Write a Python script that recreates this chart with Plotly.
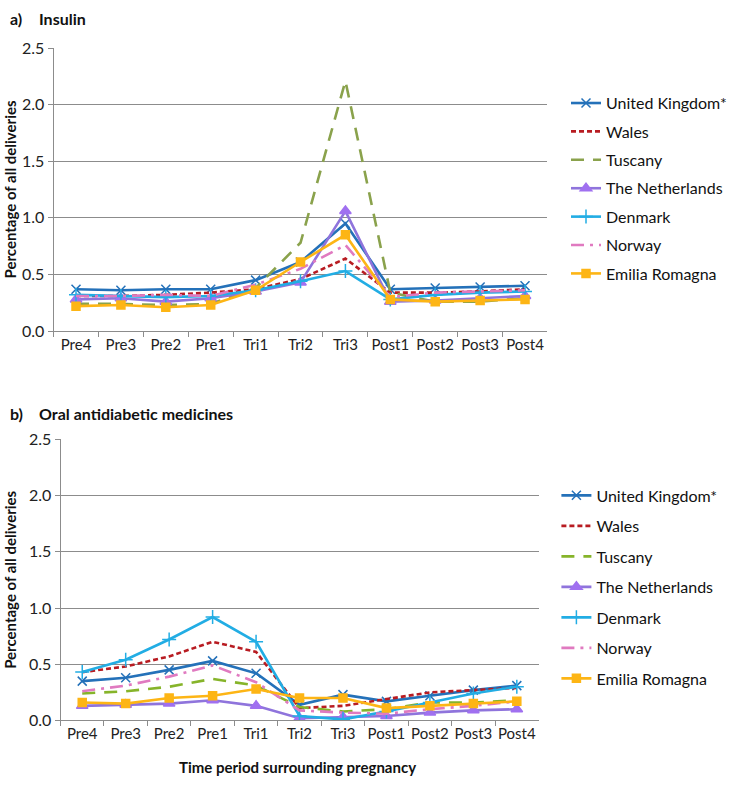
import plotly.graph_objects as go

periods = ["Pre4", "Pre3", "Pre2", "Pre1", "Tri1", "Tri2", "Tri3", "Post1", "Post2", "Post3", "Post4"]
countries = ["United Kingdom*", "Wales", "Tuscany", "The Netherlands", "Denmark", "Norway", "Emilia Romagna"]

# a) Insulin (% of all deliveries)
ins_uk = [0.37, 0.36, 0.37, 0.37, 0.45, 0.61, 0.95, 0.37, 0.38, 0.39, 0.40]
ins_wales = [0.31, 0.31, 0.32, 0.34, 0.37, 0.46, 0.64, 0.34, 0.34, 0.35, 0.37]
ins_tuscany = [0.24, 0.24, 0.23, 0.24, 0.38, 0.78, 2.21, 0.34, 0.26, 0.26, 0.29]
ins_nl = [0.28, 0.29, 0.26, 0.29, 0.35, 0.43, 1.06, 0.26, 0.27, 0.29, 0.31]
ins_dk = [0.32, 0.31, 0.30, 0.31, 0.36, 0.44, 0.53, 0.28, 0.32, 0.34, 0.35]
ins_norway = [0.31, 0.31, 0.32, 0.31, 0.41, 0.55, 0.76, 0.30, 0.34, 0.35, 0.36]
ins_er = [0.22, 0.23, 0.21, 0.23, 0.36, 0.61, 0.85, 0.28, 0.26, 0.27, 0.28]

# b) Oral antidiabetic medicines (% of all deliveries)
oad_uk = [0.35, 0.38, 0.45, 0.53, 0.42, 0.14, 0.23, 0.17, 0.22, 0.27, 0.31]
oad_wales = [0.43, 0.48, 0.57, 0.70, 0.61, 0.11, 0.13, 0.19, 0.25, 0.27, 0.29]
oad_tuscany = [0.24, 0.26, 0.30, 0.37, 0.31, 0.12, 0.08, 0.10, 0.16, 0.16, 0.18]
oad_nl = [0.13, 0.14, 0.15, 0.18, 0.13, 0.02, 0.03, 0.04, 0.07, 0.09, 0.10]
oad_dk = [0.43, 0.54, 0.72, 0.92, 0.70, 0.04, 0.01, 0.08, 0.16, 0.24, 0.30]
oad_norway = [0.26, 0.31, 0.39, 0.49, 0.34, 0.09, 0.07, 0.06, 0.10, 0.13, 0.17]
oad_er = [0.16, 0.15, 0.20, 0.22, 0.28, 0.20, 0.20, 0.11, 0.13, 0.15, 0.17]

y_ticks = [0.0, 0.5, 1.0, 1.5, 2.0, 2.5]

FONT = "Lato"
GRID = "#8c8c8c"

styles = {
    "United Kingdom*": dict(color="#2471b9", dash="solid", symbol="x-thin", msize=9),
    "Wales": dict(color="#b81c22", dash="5px,3px", symbol=None, msize=0),
    "Tuscany": dict(color="#8aa24c", dash="13px,9px", symbol=None, msize=0),
    "The Netherlands": dict(color="#8f74dc", dash="solid", symbol="triangle-up", msize=10),
    "Denmark": dict(color="#22ade4", dash="solid", symbol="cross-thin", msize=10),
    "Norway": dict(color="#e07ac0", dash="13px,6px,3px,6px", symbol=None, msize=0),
    "Emilia Romagna": dict(color="#fdb515", dash="solid", symbol="square", msize=8),
}

fig = go.Figure()

def add_panel(series, xa, ya, legend, tuscany_color):
    for name, vals in zip(countries, series):
        st = styles[name]
        color = tuscany_color if name == "Tuscany" else st["color"]
        mcolor = "#a070f0" if name == "The Netherlands" else color
        kw = dict(mode="lines")
        if st["symbol"]:
            kw = dict(mode="lines+markers",
                      marker=dict(symbol=st["symbol"], size=st["msize"], color=mcolor,
                                  line=dict(color=mcolor, width=1.5)))
        fig.add_trace(go.Scatter(
            x=periods, y=vals, name=name, xaxis=xa, yaxis=ya, legend=legend,
            legendgroup=legend + name,
            line=dict(color=color, width=2.6, dash=st["dash"]),
            **kw))

add_panel([ins_uk, ins_wales, ins_tuscany, ins_nl, ins_dk, ins_norway, ins_er], "x", "y", "legend", "#8aa24c")
add_panel([oad_uk, oad_wales, oad_tuscany, oad_nl, oad_dk, oad_norway, oad_er], "x2", "y2", "legend2", "#86b42a")

W, H = 732, 789

def px_x(x):
    return x / W

def px_y(y):
    return 1 - y / H

def xdom(a, b):
    return [px_x(a), px_x(b)]

def ydom(top_px, bottom_px):
    return [px_y(bottom_px), px_y(top_px)]

xcommon = dict(type="category", range=[-0.5, 10.5], showline=True, linecolor=GRID, linewidth=1,
               ticks="outside", tickson="boundaries", ticklen=5, tickcolor=GRID, tickangle=0,
               showgrid=False, zeroline=False, fixedrange=True,
               tickfont=dict(family=FONT, size=15, color="#222"))
ycommon = dict(range=[0, 2.5], tickvals=y_ticks, tickformat=".1f", showline=True, linecolor=GRID,
               linewidth=1, ticks="outside", ticklen=5, tickcolor=GRID, showgrid=True,
               gridcolor=GRID, gridwidth=1, zeroline=False, fixedrange=True,
               tickfont=dict(family=FONT, size=16, color="#222"))

legcommon = dict(font=dict(family=FONT, size=16, color="#111"), bgcolor="rgba(0,0,0,0)",
                 xanchor="left", yanchor="top", itemclick=False, itemdoubleclick=False)

fig.update_layout(
    width=W, height=H, autosize=False,
    margin=dict(l=0, r=0, t=0, b=0),
    paper_bgcolor="white", plot_bgcolor="white",
    font=dict(family=FONT),
    xaxis=dict(domain=xdom(54, 552), anchor="y", **xcommon),
    yaxis=dict(domain=ydom(39, 329), anchor="x", **ycommon),
    xaxis2=dict(domain=xdom(61, 543), anchor="y2", **xcommon),
    yaxis2=dict(domain=ydom(440, 728), anchor="x2", **ycommon),
    legend=dict(x=px_x(571), y=px_y(78), tracegroupgap=4.6, **legcommon),
    legend2=dict(x=px_x(561), y=px_y(480), tracegroupgap=6.7, **legcommon),
)

def ann(text, xpx, ypx, size=15, bold=True, angle=0, xanchor="left"):
    fig.add_annotation(text=f"<b>{text}</b>" if bold else text, x=px_x(xpx), y=px_y(ypx),
                       xref="paper", yref="paper", xanchor=xanchor, yanchor="middle",
                       showarrow=False, textangle=angle,
                       font=dict(family=FONT, size=size, color="#111"))

ann("a)", 8, 9, size=16)
ann("Insulin", 37, 9, size=16)
ann("b)", 8, 413, size=16)
ann("Oral antidiabetic medicines", 37, 413, size=16)
ann("Percentage of all deliveries", 10, 184, size=15, angle=-90, xanchor="center")
ann("Percentage of all deliveries", 10, 584, size=15, angle=-90, xanchor="center")
ann("Time period surrounding pregnancy", 300, 776, size=15, xanchor="center")

fig.write_html("out.html", config={"displayModeBar": False},
               post_script="document.body.style.margin='0';document.body.style.overflow='hidden';")
